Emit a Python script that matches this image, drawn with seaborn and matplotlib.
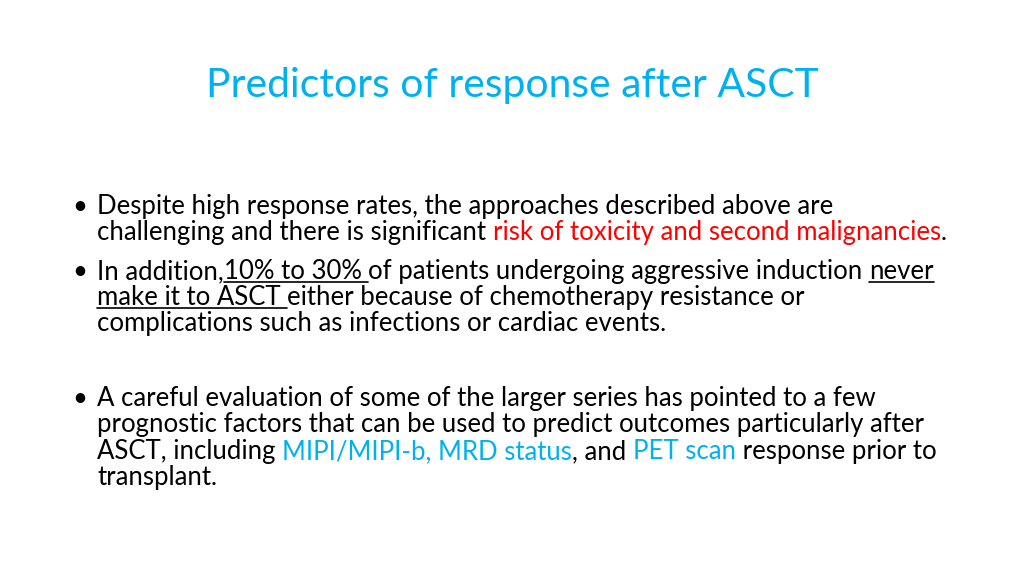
"""Slide: Predictors of response after ASCT, drawn as text on a blank axes."""

import matplotlib
matplotlib.use("Agg")
import matplotlib.pyplot as plt
import seaborn as sns

BLACK = "#000000"
RED = "#FF0000"
BLUE = "#00B0F0"

title = "Predictors of response after ASCT"

# each line: list of (text, colour, underlined)
lines = [
    [("Despite high response rates, the approaches described above are", BLACK, False)],
    [("challenging and there is significant ", BLACK, False),
     ("risk of toxicity and second malignancies", RED, False), (".", BLACK, False)],
    [("In addition,", BLACK, False), ("10% to 30% ", BLACK, True),
     ("of patients undergoing aggressive induction ", BLACK, False), ("never", BLACK, True)],
    [("make it to ASCT ", BLACK, True),
     ("either because of chemotherapy resistance or", BLACK, False)],
    [("complications such as infections or cardiac events.", BLACK, False)],
    [("A careful evaluation of some of the larger series has pointed to a few", BLACK, False)],
    [("prognostic factors that can be used to predict outcomes particularly after", BLACK, False)],
    [("ASCT, including ", BLACK, False), ("MIPI/MIPI-b, MRD status", BLUE, False),
     (", and ", BLACK, False), ("PET scan", BLUE, False),
     (" response prior to", BLACK, False)],
    [("transplant.", BLACK, False)],
]
line_y = [214, 240, 279, 305, 331, 406, 432, 459, 485]   # baselines, px
bullet_lines = [0, 2, 5]

sns.set_theme(style="white")
FONT = "Lato"
fig = plt.figure(figsize=(10.24, 5.76), dpi=100)
ax = fig.add_axes([0, 0, 1, 1])
ax.set_xlim(0, 1024)
ax.set_ylim(576, 0)
ax.axis("off")
renderer = fig.canvas.get_renderer()


def width_of(s, size):
    t = ax.text(0, 0, s, fontsize=size, family=FONT)
    w = t.get_window_extent(renderer).width
    t.remove()
    return w


# scale body font so the widest line spans like the original
ref = "".join(s for s, _, _ in lines[1])
body_fs = 10 * 847 / width_of(ref, 10)
title_fs = 10 * 614 / width_of(title, 10)

ax.text(512, 97, title, fontsize=title_fs, family=FONT, color=BLUE, ha="center", va="baseline")

x0 = 97
for i, (segs, y) in enumerate(zip(lines, line_y)):
    if i in bullet_lines:
        ax.text(80, y, "•", fontsize=body_fs, family=FONT, color=BLACK, va="baseline", ha="center")
    x = x0
    for s, col, ul in segs:
        ax.text(x, y, s, fontsize=body_fs, family=FONT, color=col, va="baseline", ha="left")
        w = width_of(s, body_fs)
        if ul:
            ax.plot([x, x + w], [y + 3, y + 3], color=col, lw=1.2)
        x += w

fig.savefig("out.png", dpi=100)
